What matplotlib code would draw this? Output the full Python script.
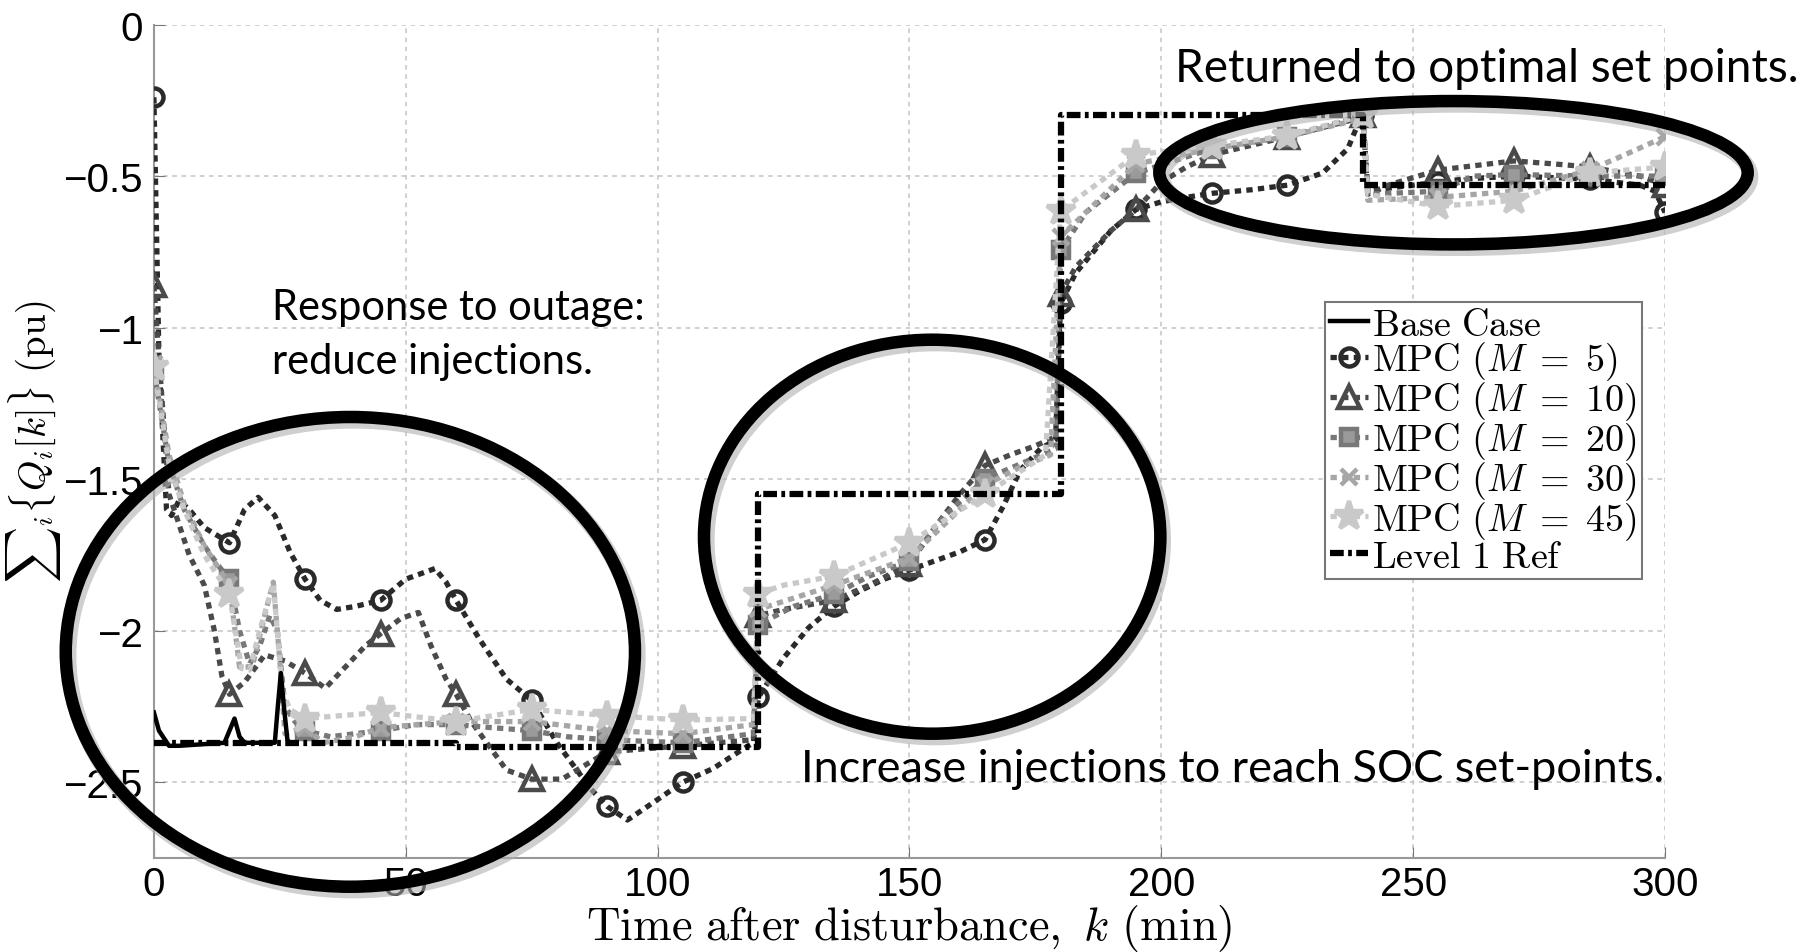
import numpy as np
import matplotlib
matplotlib.use('Agg')
import matplotlib.pyplot as plt
from matplotlib.patches import Ellipse
import matplotlib.transforms as mtransforms

plt.rcParams['mathtext.fontset'] = 'cm'
plt.rcParams['font.family'] = ['Liberation Sans', 'DejaVu Sans']

# ---- data (time in min, sum of Q in pu) ----
t_base = [0, 1, 3, 5, 14, 15, 16, 17, 18, 24, 24.6, 25.2, 25.8, 26.5, 27]
q_base = [-2.27, -2.33, -2.38, -2.38, -2.37, -2.33, -2.29, -2.35, -2.37, -2.37,
          -2.25, -2.14, -2.25, -2.36, -2.37]

t_m5 = [0, 1, 2.5, 3.5, 5, 7, 10, 15, 18, 20.7, 24, 27, 30, 33, 36.3, 40, 45, 50,
        55.8, 58, 60, 64.7, 70, 75, 80, 86.6, 90, 94, 98, 105, 111, 117, 119, 120,
        125, 130, 135, 140, 145, 150, 155, 160, 165, 168.6, 172, 176, 179, 180, 183,
        190, 195, 200, 205, 210, 218, 225, 232, 237, 239, 240, 241, 245, 255, 260,
        270, 285, 295, 298, 300]
q_m5 = [-0.24, -1.10, -1.60, -1.62, -1.57, -1.60, -1.66, -1.71, -1.60, -1.56, -1.62,
        -1.74, -1.83, -1.90, -1.93, -1.92, -1.90, -1.83, -1.795, -1.84, -1.90, -2.03,
        -2.16, -2.23, -2.37, -2.52, -2.58, -2.625, -2.58, -2.50, -2.455, -2.39, -2.37,
        -2.22, -2.09, -1.99, -1.92, -1.87, -1.83, -1.80, -1.77, -1.74, -1.70, -1.59,
        -1.47, -1.40, -1.37, -0.92, -0.82, -0.68, -0.61, -0.585, -0.57, -0.557, -0.545,
        -0.53, -0.49, -0.41, -0.33, -0.30, -0.55, -0.54, -0.52, -0.51, -0.50, -0.51,
        -0.53, -0.55, -0.62]

t_m10 = [0, 1, 3, 5, 7, 10, 12, 13.5, 15, 18, 22, 26, 30, 34, 38, 42, 45, 49, 52.5,
         55, 58, 60, 63, 70, 75, 81, 85, 90, 105, 119, 120, 125, 135, 142, 150, 155,
         160, 165, 170, 175, 179, 180, 183, 190, 195, 200, 205, 210, 225, 239, 240,
         241, 245, 255, 260, 270, 278, 285, 295, 300]
q_m10 = [-0.86, -1.10, -1.55, -1.65, -1.75, -1.85, -2.00, -2.15, -2.21, -2.17, -2.08,
         -2.10, -2.14, -2.19, -2.12, -2.05, -2.01, -1.96, -1.94, -2.05, -2.16, -2.21,
         -2.30, -2.46, -2.49, -2.49, -2.45, -2.40, -2.38, -2.36, -1.95, -1.93, -1.90,
         -1.85, -1.78, -1.66, -1.55, -1.455, -1.42, -1.39, -1.36, -0.89, -0.80, -0.68,
         -0.61, -0.52, -0.47, -0.43, -0.37, -0.31, -0.30, -0.56, -0.53, -0.48, -0.47,
         -0.45, -0.46, -0.47, -0.50, -0.53]

t_m20 = [0, 3, 6, 10, 13, 15, 17, 19, 21, 23, 24.5, 26, 28, 30, 35, 40, 45, 52, 60,
         67, 75, 82, 90, 105, 119, 120, 127, 135, 142, 150, 157, 165, 172, 179, 180,
         185, 195, 210, 225, 240, 241, 255, 262, 270, 285, 300]
q_m20 = [-1.14, -1.45, -1.60, -1.72, -1.79, -1.83, -2.00, -2.11, -2.05, -1.95, -2.00,
         -2.25, -2.30, -2.33, -2.35, -2.34, -2.33, -2.31, -2.31, -2.32, -2.33, -2.35,
         -2.36, -2.37, -2.34, -1.98, -1.92, -1.88, -1.82, -1.77, -1.62, -1.50, -1.45,
         -1.40, -0.744, -0.62, -0.49, -0.41, -0.37, -0.30, -0.56, -0.55, -0.50, -0.495,
         -0.50, -0.50]

t_m30 = [0, 3, 6, 10, 15, 17, 19.5, 22, 23.7, 25, 26, 30, 33.6, 40, 45, 60, 75, 90,
         105, 119, 120, 135, 150, 165, 172, 178, 180, 195, 210, 225, 240, 241, 255,
         270, 285, 292, 300]
q_m30 = [-1.12, -1.42, -1.58, -1.72, -1.85, -2.12, -2.12, -1.95, -1.84, -2.10, -2.34,
         -2.32, -2.37, -2.35, -2.32, -2.30, -2.30, -2.33, -2.34, -2.31, -1.93, -1.85,
         -1.76, -1.52, -1.46, -1.42, -0.70, -0.46, -0.41, -0.37, -0.31, -0.58, -0.57,
         -0.55, -0.48, -0.43, -0.37]

t_m45 = [0, 3, 6, 10, 15, 17.4, 19, 21, 23.7, 25.5, 27, 30, 45, 60, 75, 90, 105, 119,
         120, 125, 135, 150, 165, 177, 180, 195, 210, 225, 240, 241, 255, 270, 285, 300]
q_m45 = [-1.13, -1.45, -1.60, -1.75, -1.88, -2.125, -2.13, -2.00, -1.844, -2.20, -2.26,
         -2.29, -2.27, -2.30, -2.26, -2.28, -2.295, -2.29, -1.878, -1.85, -1.82, -1.71,
         -1.55, -1.42, -0.615, -0.43, -0.40, -0.367, -0.30, -0.56, -0.60, -0.58, -0.49,
         -0.47]

t_ref = [0, 60, 60, 120, 120, 180, 180, 240, 240, 300]
q_ref = [-2.37, -2.37, -2.385, -2.385, -1.55, -1.55, -0.30, -0.30, -0.53, -0.53]

marker_times = np.arange(0, 301, 15)

fig = plt.figure(figsize=(18.15, 9.53), dpi=100)
ax = fig.add_axes([0.0848, 0.0987, 0.8326, 0.8745])

dot = (0, (1.2, 1.0))
ax.plot(t_base, q_base, color='black', lw=3.2, label=r'$\mathrm{Base\ Case}$', zorder=6)

series = [
    (t_m5, q_m5, '#2a2a2a', 'o', 13, 'none', r'$\mathrm{MPC}\ (M\;=\;5)$'),
    (t_m10, q_m10, '#4a4a4a', '^', 16, 'none', r'$\mathrm{MPC}\ (M\;=\;10)$'),
    (t_m20, q_m20, '#787878', 's', 11, '#9a9a9a', r'$\mathrm{MPC}\ (M\;=\;20)$'),
    (t_m30, q_m30, '#a6a6a6', 'x', 12, 'none', r'$\mathrm{MPC}\ (M\;=\;30)$'),
    (t_m45, q_m45, '#c9c9c9', '*', 21, '#c9c9c9', r'$\mathrm{MPC}\ (M\;=\;45)$'),
]
for t, q, c, m, ms, mfc, lab in series:
    ax.plot(t, q, color=c, lw=3.8, ls=dot, marker=m, ms=ms, mfc=mfc, mec=c, mew=3.2,
            markevery=list(np.isin(t, marker_times)), label=lab, zorder=4)

ax.plot(t_ref, q_ref, color='black', lw=4.5, ls=(0, (2.2, 0.7, 0.6, 0.7)),
        label=r'$\mathrm{Level\ 1\ Ref}$', zorder=5)

ax.set_xlim(0, 300)
ax.set_ylim(-2.75, 0)
ax.set_xticks(np.arange(0, 301, 50))
ax.set_yticks([-2.5, -2, -1.5, -1, -0.5, 0])
ax.set_yticklabels(['\u22122.5', '\u22122', '\u22121.5', '\u22121', '\u22120.5', '0'])
ax.tick_params(labelsize=29, direction='in', length=8, color='#777777', pad=8)
ax.tick_params(axis='x', pad=5)
ax.grid(True, ls=(0, (3, 3)), color='#c4c4c4', lw=1.1)
for s in ['top', 'right']:
    ax.spines[s].set_visible(False)
for s in ['left', 'bottom']:
    ax.spines[s].set_color('#999999')
    ax.spines[s].set_linewidth(1.5)

ax.set_xlabel(r'$\mathrm{Time\ after\ disturbance,}\ k\ \mathrm{(min)}$', fontsize=33.5)
ax.xaxis.set_label_coords(0.5, -0.083)
ax.xaxis.label.set_verticalalignment('center')
ax.set_ylabel(r'${\sum}_i \{Q_i[k]\}\ \mathrm{(pu)}$', fontsize=28)
ax.yaxis.set_label_coords(-0.06, 0.5)

leg = ax.legend(loc='upper left', bbox_to_anchor=(0.775, 0.667), fontsize=27.5,
                handlelength=1.0, handletextpad=0.12, labelspacing=-0.08,
                borderpad=0.12, borderaxespad=0, fancybox=False, framealpha=1,
                edgecolor='#777777')
leg.get_frame().set_linewidth(1.5)

# callout ellipses with a soft shadow
ellipses = [((39, -2.07), 113, 1.55), ((154.5, -1.69), 90.6, 1.30),
            ((258, -0.489), 116.8, 0.473)]
shadow_tr = mtransforms.offset_copy(ax.transData, fig=fig, x=3, y=-4, units='dots')
for (cx, cy), w, h in ellipses:
    ax.add_patch(Ellipse((cx, cy), w, h, fill=False, lw=11, ec='#b0b0b0', alpha=0.6,
                         clip_on=False, zorder=9, transform=shadow_tr))
    ax.add_patch(Ellipse((cx, cy), w, h, fill=False, lw=9, ec='black', clip_on=False,
                         zorder=10))

note_font = dict(family=['Lato', 'DejaVu Sans'], color='black', zorder=11)
ax.text(23.4, -0.87, 'Response to outage:\nreduce injections.', va='top', ha='left',
        linespacing=1.5, fontsize=30, **note_font)
ax.text(128.5, -2.454, 'Increase injections to reach SOC set-points.', va='center',
        ha='left', fontsize=32.5, **note_font)
ax.text(202.8, -0.145, 'Returned to optimal set points.', va='center', ha='left',
        fontsize=33, **note_font)

fig.savefig('out.png', dpi=100)
